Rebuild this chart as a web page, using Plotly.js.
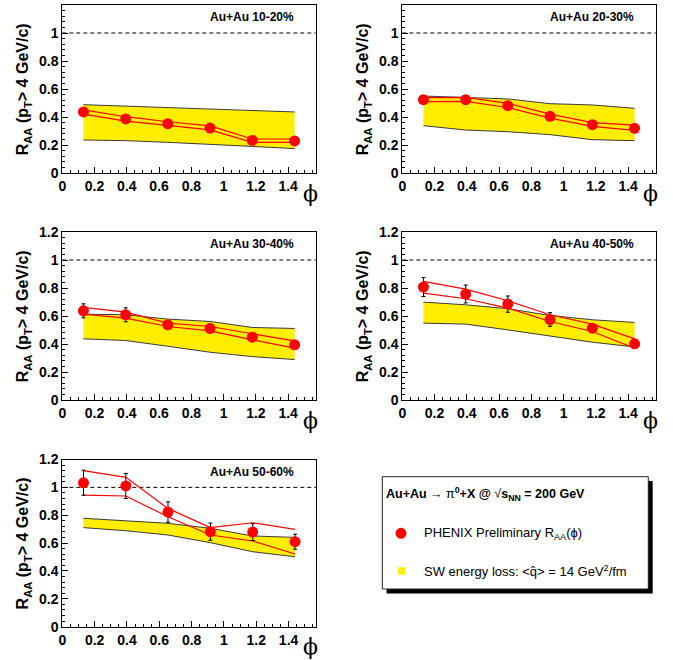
<!DOCTYPE html>
<html><head><meta charset="utf-8">
<script src="https://cdn.plot.ly/plotly-3.0.1.min.js"></script>
<style>html,body{margin:0;padding:0;background:#fff}</style>
</head><body><div id="chart" style="width:673px;height:660px"></div>
<script>
// ---- data ----
const phi = [0.131, 0.393, 0.654, 0.916, 1.178, 1.440];
const centralities = ['10-20%', '20-30%', '30-40%', '40-50%', '50-60%'];
const xTicks = [0, 0.2, 0.4, 0.6, 0.8, 1, 1.2, 1.4];
const yTicks = [0, 0.2, 0.4, 0.6, 0.8, 1, 1.2];

const raa_10_20   = [0.436, 0.386, 0.352, 0.321, 0.233, 0.229];
const stat_10_20  = [0.02, 0.02, 0.02, 0.02, 0.02, 0.02];
const sysHi_10_20 = [0.451, 0.402, 0.366, 0.336, 0.243, 0.243];
const sysLo_10_20 = [0.421, 0.371, 0.340, 0.308, 0.219, 0.219];
const swHi_10_20  = [0.488, 0.478, 0.471, 0.460, 0.448, 0.436];
const swLo_10_20  = [0.236, 0.231, 0.219, 0.207, 0.190, 0.174];

const raa_20_30   = [0.524, 0.524, 0.481, 0.405, 0.345, 0.319];
const stat_20_30  = [0.02, 0.02, 0.02, 0.02, 0.02, 0.02];
const sysHi_20_30 = [0.538, 0.540, 0.497, 0.420, 0.360, 0.342];
const sysLo_20_30 = [0.510, 0.512, 0.468, 0.392, 0.333, 0.305];
const swHi_20_30  = [0.550, 0.540, 0.529, 0.495, 0.486, 0.462];
const swLo_20_30  = [0.338, 0.307, 0.295, 0.274, 0.238, 0.231];

const raa_30_40   = [0.637, 0.609, 0.537, 0.511, 0.449, 0.394];
const stat_30_40  = [0.050, 0.050, 0.030, 0.030, 0.030, 0.030];
const sysHi_30_40 = [0.661, 0.628, 0.549, 0.525, 0.473, 0.422];
const sysLo_30_40 = [0.613, 0.585, 0.525, 0.494, 0.430, 0.370];
const swHi_30_40  = [0.613, 0.609, 0.578, 0.561, 0.518, 0.511];
const swLo_30_40  = [0.437, 0.425, 0.384, 0.341, 0.310, 0.289];

const raa_40_50   = [0.807, 0.757, 0.685, 0.575, 0.513, 0.401];
const stat_40_50  = [0.068, 0.064, 0.058, 0.049, 0.030, 0.030];
const sysHi_40_50 = [0.847, 0.792, 0.709, 0.609, 0.542, 0.437];
const sysLo_40_50 = [0.764, 0.723, 0.656, 0.561, 0.489, 0.370];
const swHi_40_50  = [0.699, 0.680, 0.652, 0.604, 0.573, 0.554];
const swLo_40_50  = [0.549, 0.542, 0.501, 0.456, 0.413, 0.379];

const raa_50_60   = [1.033, 1.010, 0.823, 0.682, 0.679, 0.610];
const stat_50_60  = [0.090, 0.090, 0.073, 0.062, 0.060, 0.054];
const sysHi_50_60 = [1.120, 1.072, 0.849, 0.711, 0.746, 0.699];
const sysLo_50_60 = [0.945, 0.938, 0.789, 0.658, 0.615, 0.522];
const swHi_50_60  = [0.778, 0.761, 0.742, 0.706, 0.651, 0.641];
const swLo_50_60  = [0.711, 0.689, 0.658, 0.603, 0.538, 0.502];

const legendTitle = '<b>Au+Au</b> \u2192 \u03c0<b><sup>0</sup>+X @ </b>\u221a<b>s<sub>NN</sub> = 200 GeV</b>';
const legendData  = 'PHENIX Preliminary R<sub>AA</sub>(\u03d5)';
const legendModel = 'SW energy loss: &lt;q\u0302&gt; = 14 GeV<sup>2</sup>/fm';
const yTitle = '<b>R<sub>AA</sub> (p<sub>T</sub>> 4 GeV/c)</b>';
const xTitle = '\u03d5';

// ---- layout ----
const W = 673, H = 660;
const FONT = '"Liberation Sans", Arial, Helvetica, sans-serif';
const RED = '#ff0000', YEL = '#ffee00', EDGE = '#3a3a3a';
const px = v => v / W, py = v => 1 - v / H;

const series = [
  {raa: raa_10_20, stat: stat_10_20, hi: sysHi_10_20, lo: sysLo_10_20, swHi: swHi_10_20, swLo: swLo_10_20},
  {raa: raa_20_30, stat: stat_20_30, hi: sysHi_20_30, lo: sysLo_20_30, swHi: swHi_20_30, swLo: swLo_20_30},
  {raa: raa_30_40, stat: stat_30_40, hi: sysHi_30_40, lo: sysLo_30_40, swHi: swHi_30_40, swLo: swLo_30_40},
  {raa: raa_40_50, stat: stat_40_50, hi: sysHi_40_50, lo: sysLo_40_50, swHi: swHi_40_50, swLo: swLo_40_50},
  {raa: raa_50_60, stat: stat_50_60, hi: sysHi_50_60, lo: sysLo_50_60, swHi: swHi_50_60, swLo: swLo_50_60}
];
// pixel frames of each panel: [left, right, top, bottom]
const frames = [
  [62.3, 315.7, 5, 173],
  [402.3, 655.7, 5, 173],
  [62.3, 315.7, 232, 400],
  [402.3, 655.7, 232, 400],
  [62.3, 316.2, 459.5, 626.7]
];

const traces = [];
const layout = {
  width: W, height: H, margin: {l: 0, r: 0, t: 0, b: 0},
  paper_bgcolor: 'white', plot_bgcolor: 'white', showlegend: false,
  font: {family: FONT, color: 'black'},
  shapes: [], annotations: []
};

series.forEach((s, i) => {
  const n = i === 0 ? '' : String(i + 1);
  const xa = 'x' + n, ya = 'y' + n;
  const [l, r, t, b] = frames[i];
  const common = {xaxis: xa, yaxis: ya, hoverinfo: 'skip', showlegend: false};
  traces.push(Object.assign({x: phi, y: s.swHi, mode: 'lines', line: {color: EDGE, width: 1}}, common));
  traces.push(Object.assign({x: phi, y: s.swLo, mode: 'lines', fill: 'tonexty', fillcolor: YEL, line: {color: EDGE, width: 1}}, common));
  traces.push(Object.assign({x: phi, y: s.hi, mode: 'lines', line: {color: RED, width: 1.2}}, common));
  traces.push(Object.assign({x: phi, y: s.lo, mode: 'lines', line: {color: RED, width: 1.2}}, common));
  traces.push(Object.assign({x: phi, y: s.raa, mode: 'markers', marker: {color: RED, size: 11},
    error_y: {type: 'data', array: s.stat, color: 'black', thickness: 1, width: 2}}, common));

  const axBase = {
    showline: true, linecolor: 'black', linewidth: 1, mirror: true,
    showgrid: false, zeroline: false, ticks: 'inside', ticklen: 6, tickwidth: 1, tickcolor: 'black',
    tickfont: {family: FONT, size: 14, color: 'black', weight: 'bold'}, fixedrange: true
  };
  layout['xaxis' + n] = Object.assign({}, axBase, {
    domain: [px(l), px(r)], range: [0, Math.PI / 2], anchor: ya,
    tickmode: 'array', tickvals: xTicks, ticktext: xTicks.map(String),
    minor: {ticks: 'inside', ticklen: 3, dtick: 0.05, tick0: 0, tickcolor: 'black', showgrid: false}
  });
  layout['yaxis' + n] = Object.assign({}, axBase, {
    domain: [py(b), py(t)], range: [0, 1.2], anchor: xa,
    tickmode: 'array', tickvals: yTicks, ticktext: yTicks.map(String),
    minor: {ticks: 'inside', ticklen: 3, dtick: 0.04, tick0: 0, tickcolor: 'black', showgrid: false}
  });
  layout.shapes.push({type: 'line', layer: 'below', xref: xa + ' domain', x0: 0, x1: 1, yref: ya, y0: 1, y1: 1,
    line: {color: 'black', width: 1, dash: '4px,3px'}});
  layout.annotations.push({text: '<b>Au+Au ' + centralities[i] + '</b>', xref: 'paper', yref: 'paper',
    x: px(r - 20), y: py(t + 12), xanchor: 'right', yanchor: 'middle', showarrow: false, font: {size: 12}});
  layout.annotations.push({text: yTitle, textangle: -90, xref: 'paper', yref: 'paper',
    x: px(l - 39), y: py((t + b) / 2), xanchor: 'center', yanchor: 'middle', showarrow: false, font: {size: 16}});
  layout.annotations.push({text: xTitle, xref: 'paper', yref: 'paper',
    x: px(l + 248), y: py(b + 20), xanchor: 'center', yanchor: 'middle', showarrow: false,
    font: {size: 22, family: '"DejaVu Serif", "Liberation Serif", serif'}});
});

// legend box
layout.shapes.push({type: 'rect', xref: 'paper', yref: 'paper', x0: px(386.5), x1: px(652.7), y0: py(593.5), y1: py(481),
  fillcolor: 'black', line: {width: 0}});
layout.shapes.push({type: 'rect', xref: 'paper', yref: 'paper', x0: px(382.3), x1: px(648.3), y0: py(589), y1: py(476.7),
  fillcolor: 'white', line: {color: '#222', width: 1}});
layout.shapes.push({type: 'circle', xref: 'paper', yref: 'paper', x0: px(395.5), x1: px(406.5), y0: py(538.8), y1: py(527.8),
  fillcolor: RED, line: {width: 0}});
layout.shapes.push({type: 'rect', xref: 'paper', yref: 'paper', x0: px(398), x1: px(405.5), y0: py(574.7), y1: py(567.2),
  fillcolor: YEL, line: {width: 0}});
layout.annotations.push({text: legendTitle, xref: 'paper', yref: 'paper', x: px(383.5), y: py(494),
  xanchor: 'left', yanchor: 'middle', showarrow: false, font: {size: 12.5}});
layout.annotations.push({text: legendData, xref: 'paper', yref: 'paper', x: px(421.7), y: py(533),
  xanchor: 'left', yanchor: 'middle', showarrow: false, font: {size: 13}});
layout.annotations.push({text: legendModel, xref: 'paper', yref: 'paper', x: px(421.7), y: py(571),
  xanchor: 'left', yanchor: 'middle', showarrow: false, font: {size: 13}});

Plotly.newPlot('chart', traces, layout, {displayModeBar: false, staticPlot: true});
</script></body></html>
